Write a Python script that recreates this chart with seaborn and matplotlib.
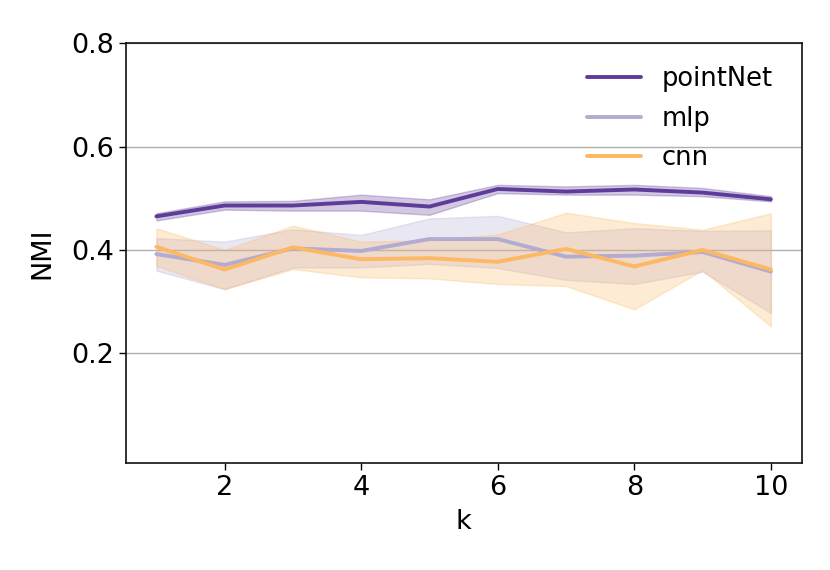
import numpy as np
import pandas as pd
import matplotlib
matplotlib.use("Agg")
import matplotlib.pyplot as plt
import seaborn as sns

k = [1, 2, 3, 4, 5, 6, 7, 8, 9, 10]

pointnet_mean = [0.465, 0.486, 0.486, 0.493, 0.484, 0.518, 0.513, 0.517, 0.511, 0.498]
pointnet_lo   = [0.457, 0.478, 0.476, 0.476, 0.468, 0.510, 0.507, 0.507, 0.504, 0.494]
pointnet_hi   = [0.471, 0.494, 0.495, 0.507, 0.498, 0.526, 0.523, 0.526, 0.520, 0.504]

mlp_mean = [0.392, 0.371, 0.403, 0.398, 0.421, 0.421, 0.387, 0.389, 0.396, 0.358]
mlp_lo   = [0.360, 0.324, 0.366, 0.366, 0.373, 0.365, 0.342, 0.334, 0.358, 0.278]
mlp_hi   = [0.423, 0.416, 0.440, 0.429, 0.461, 0.466, 0.434, 0.442, 0.437, 0.438]

cnn_mean = [0.406, 0.362, 0.405, 0.382, 0.384, 0.377, 0.402, 0.368, 0.400, 0.362]
cnn_lo   = [0.369, 0.324, 0.363, 0.347, 0.345, 0.334, 0.330, 0.285, 0.361, 0.252]
cnn_hi   = [0.442, 0.400, 0.447, 0.416, 0.419, 0.430, 0.472, 0.452, 0.439, 0.471]

models = ["pointNet", "mlp", "cnn"]
colors = ["#5e3c99", "#b2abd2", "#fdb863"]

series = {
    "pointNet": (pointnet_lo, pointnet_mean, pointnet_hi),
    "mlp": (mlp_lo, mlp_mean, mlp_hi),
    "cnn": (cnn_lo, cnn_mean, cnn_hi),
}

rows = []
for m in models:
    lo, mid, hi = series[m]
    for i, x in enumerate(k):
        for v in (lo[i], mid[i], hi[i]):
            rows.append({"k": x, "NMI": v, "model": m})
df = pd.DataFrame(rows)

sns.set_style("white")
plt.rcParams["font.family"] = ["DejaVu Sans"]
plt.rcParams["text.color"] = "black"
plt.rcParams["axes.labelcolor"] = "black"
plt.rcParams["xtick.color"] = "black"
plt.rcParams["ytick.color"] = "black"

fig = plt.figure(figsize=(8.3, 5.7), dpi=100)
ax = fig.add_axes([0.1514, 0.1882, 0.8144, 0.7358])

sns.lineplot(data=df, x="k", y="NMI", hue="model", hue_order=models,
             palette=colors, estimator="median", errorbar=("pi", 100),
             linewidth=2.8, err_kws={"alpha": 0.28, "linewidth": 1.0},
             ax=ax)

ax.set_ylim(-0.012, 0.8)
ax.set_yticks([0.2, 0.4, 0.6, 0.8])
ax.set_xticks([2, 4, 6, 8, 10])
ax.yaxis.grid(True, color="#b0b0b0", linewidth=1.0)
ax.xaxis.grid(False)
ax.set_axisbelow(True)
for s in ax.spines.values():
    s.set_visible(True)
    s.set_color("#111111")
    s.set_linewidth(1.2)
ax.tick_params(axis="both", labelsize=19.5, direction="out", length=5,
               width=1.0, colors="black", left=True, bottom=True)
ax.set_xlabel("k", fontsize=19.5, labelpad=6)
ax.set_ylabel("NMI", fontsize=19.5, labelpad=11)

leg = ax.legend(loc="upper right", bbox_to_anchor=(0.992, 1.0), frameon=False,
                fontsize=18.5, labelspacing=0.52, handlelength=2.1)
for line in leg.get_lines():
    line.set_linewidth(2.8)

fig.savefig("out.png", dpi=100)
